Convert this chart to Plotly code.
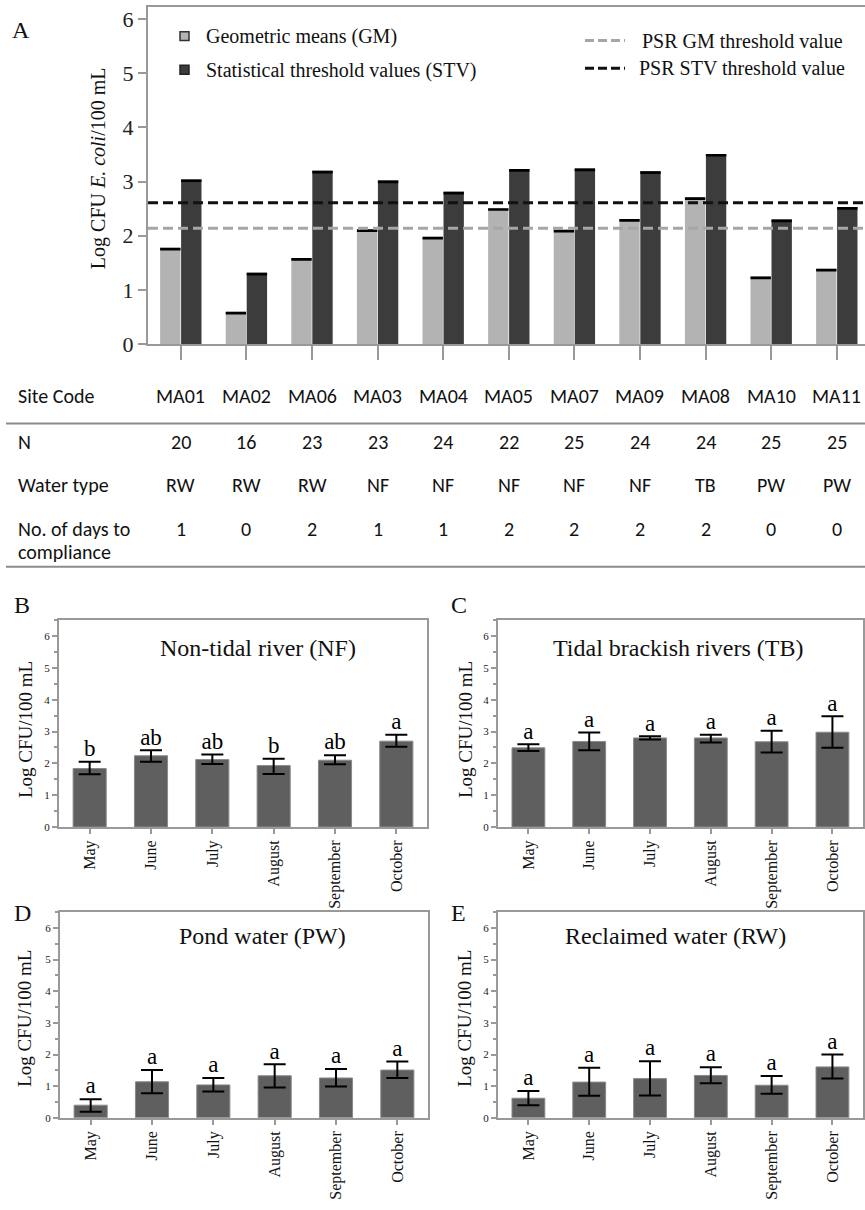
import plotly.graph_objects as go

# ---------------- data ----------------
sites = ["MA01", "MA02", "MA06", "MA03", "MA04", "MA05", "MA07", "MA09", "MA08", "MA10", "MA11"]
gm_values = [1.78, 0.60, 1.59, 2.12, 1.98, 2.51, 2.11, 2.31, 2.71, 1.25, 1.39]
stv_values = [3.04, 1.32, 3.20, 3.02, 2.81, 3.23, 3.24, 3.19, 3.51, 2.30, 2.53]
n_samples = [20, 16, 23, 23, 24, 22, 25, 24, 24, 25, 25]
water_type = ["RW", "RW", "RW", "NF", "NF", "NF", "NF", "NF", "TB", "PW", "PW"]
days_to_compliance = [1, 0, 2, 1, 1, 2, 2, 2, 2, 0, 0]
psr_gm_threshold = 2.14
psr_stv_threshold = 2.61

months = ["May", "June", "July", "August", "September", "October"]

nf_mean = [1.84, 2.24, 2.12, 1.93, 2.10, 2.70]
nf_upper = [2.05, 2.41, 2.28, 2.15, 2.26, 2.90]
nf_lower = [1.66, 2.05, 1.98, 1.67, 1.97, 2.52]
nf_letters = ["b", "ab", "ab", "b", "ab", "a"]

tb_mean = [2.49, 2.69, 2.80, 2.80, 2.68, 2.98]
tb_upper = [2.60, 2.97, 2.85, 2.90, 3.03, 3.48]
tb_lower = [2.39, 2.41, 2.75, 2.66, 2.34, 2.49]
tb_letters = ["a", "a", "a", "a", "a", "a"]

pw_mean = [0.40, 1.14, 1.04, 1.33, 1.26, 1.51]
pw_upper = [0.59, 1.51, 1.26, 1.69, 1.54, 1.78]
pw_lower = [0.19, 0.78, 0.83, 0.96, 0.99, 1.26]
pw_letters = ["a", "a", "a", "a", "a", "a"]

rw_mean = [0.62, 1.13, 1.24, 1.34, 1.03, 1.61]
rw_upper = [0.85, 1.58, 1.79, 1.60, 1.32, 2.00]
rw_lower = [0.40, 0.70, 0.71, 1.09, 0.76, 1.24]
rw_letters = ["a", "a", "a", "a", "a", "a"]

# ---------------- style ----------------
W, H = 865, 1210
SERIF = "Liberation Serif, Times New Roman, serif"
SANS = "Carlito, Lato, Open Sans, sans-serif"
AXC = "#999999"
GM_COLOR = "#b3b3b3"
STV_COLOR = "#3c3c3c"
BAR_COLOR = "#5f5f5f"
CAP = 0.05


def px(x):
    return x / W


def py(y):
    return 1 - y / H


fig = go.Figure()

# ---------------- panel A ----------------
fig.add_trace(go.Bar(x=sites, y=gm_values, offsetgroup="gm", marker=dict(color=GM_COLOR, line=dict(width=0)),
                     xaxis="x", yaxis="y", showlegend=False, hoverinfo="skip"))
fig.add_trace(go.Bar(x=sites, y=[CAP] * len(sites), base=[v - CAP for v in gm_values], offsetgroup="gm",
                     marker=dict(color="black", line=dict(width=0)), xaxis="x", yaxis="y", showlegend=False,
                     hoverinfo="skip"))
fig.add_trace(go.Bar(x=sites, y=stv_values, offsetgroup="stv", marker=dict(color=STV_COLOR, line=dict(width=0)),
                     xaxis="x", yaxis="y", showlegend=False, hoverinfo="skip"))
fig.add_trace(go.Bar(x=sites, y=[CAP] * len(sites), base=[v - CAP for v in stv_values], offsetgroup="stv",
                     marker=dict(color="black", line=dict(width=0)), xaxis="x", yaxis="y", showlegend=False,
                     hoverinfo="skip"))

# threshold lines
fig.add_shape(type="line", xref="x domain", yref="y", x0=0, x1=1, y0=psr_gm_threshold, y1=psr_gm_threshold,
              line=dict(color="#a6a6a6", width=3, dash="10px,5px"))
fig.add_shape(type="line", xref="x domain", yref="y", x0=0, x1=1, y0=psr_stv_threshold, y1=psr_stv_threshold,
              line=dict(color="#111111", width=3, dash="10px,5px"))

# ---------------- panels B-E ----------------
panels = [
    ("2", nf_mean, nf_upper, nf_lower, nf_letters),
    ("3", tb_mean, tb_upper, tb_lower, tb_letters),
    ("4", pw_mean, pw_upper, pw_lower, pw_letters),
    ("5", rw_mean, rw_upper, rw_lower, rw_letters),
]
for ax, mean, up, lo, letters in panels:
    fig.add_trace(go.Bar(
        x=months, y=mean, width=0.54, offset=-0.27,
        marker=dict(color=BAR_COLOR, line=dict(color="#8a8a8a", width=1)),
        error_y=dict(type="data", symmetric=False,
                     array=[u - m for u, m in zip(up, mean)],
                     arrayminus=[m - l for m, l in zip(mean, lo)],
                     color="black", thickness=2, width=11),
        xaxis="x" + ax, yaxis="y" + ax, showlegend=False, hoverinfo="skip"))
    fig.add_trace(go.Scatter(
        x=months, y=up, mode="text", text=letters, textposition="top center",
        textfont=dict(family=SERIF, size=23, color="black"),
        xaxis="x" + ax, yaxis="y" + ax, showlegend=False, hoverinfo="skip", cliponaxis=False))


def xax(domain, anchor, rng, **kw):
    d = dict(domain=domain, anchor=anchor, range=rng, showline=True, linecolor=AXC, linewidth=2,
             mirror=True, ticks="outside", tickcolor=AXC, tickwidth=1.5, showgrid=False, zeroline=False,
             fixedrange=True)
    d.update(kw)
    return d


def yax(domain, anchor, rng, **kw):
    d = dict(domain=domain, anchor=anchor, range=rng, showline=True, linecolor=AXC, linewidth=2,
             ticks="outside", tickcolor=AXC, tickwidth=1.5, showgrid=False, zeroline=False, dtick=1,
             fixedrange=True)
    d.update(kw)
    return d


small_y = dict(ticklen=5, tickfont=dict(family=SERIF, size=11, color="#222"), mirror=True,
               minor=dict(ticks="outside", ticklen=3, dtick=0.5, tickcolor=AXC, showgrid=False))
month_x = dict(ticklen=5, tickangle=-90, tickfont=dict(family=SERIF, size=16, color="#111"))

yB = [py(836), py(627)]
yD = [py(1130), py(922)]
xL = [px(59), px(427)]
xR = [px(498), 0.9975]

fig.update_layout(
    width=W, height=H, margin=dict(l=0, r=0, t=0, b=0),
    paper_bgcolor="white", plot_bgcolor="white",
    barmode="group", bargap=0.36, bargroupgap=0.03,
    showlegend=False,
    xaxis=xax([px(148), 1], "y", [-0.5, 10.43], ticklen=14, showticklabels=False),
    yaxis=yax([py(348), py(7)], "x", [0, 6.22], ticklen=8,
              tickfont=dict(family=SERIF, size=22, color="#222")),
    xaxis2=xax(xL, "y2", [-0.5, 5.5], **month_x),
    yaxis2=yax(yB, "x2", [0, 6.5], **small_y),
    xaxis3=xax(xR, "y3", [-0.5, 5.5], **month_x),
    yaxis3=yax(yB, "x3", [0, 6.5], **small_y),
    xaxis4=xax([px(60), px(428)], "y4", [-0.5, 5.5], **month_x),
    yaxis4=yax(yD, "x4", [0, 6.5], **small_y),
    xaxis5=xax(xR, "y5", [-0.5, 5.5], **month_x),
    yaxis5=yax(yD, "x5", [0, 6.5], **small_y),
)

ann = []


def text(x, y, s, size, family=SERIF, xanchor="center", angle=0, xref="paper", color="#111"):
    ann.append(dict(x=x, y=y, xref=xref, yref="paper", text=s, showarrow=False, xanchor=xanchor,
                    yanchor="middle", textangle=angle, font=dict(family=family, size=size, color=color)))


# panel letters
text(px(10), py(30), "A", 24, xanchor="left")
text(px(12), py(612), "B", 24, xanchor="left")
text(px(449), py(612), "C", 24, xanchor="left")
text(px(12), py(923), "D", 24, xanchor="left")
text(px(449), py(923), "E", 24, xanchor="left")

# axis titles
text(px(98), py(170), "Log CFU <i>E. coli</i>/100 mL", 20, angle=-90)
for xx, yy in [(25, 738), (465, 738), (25, 1030), (465, 1030)]:
    text(px(xx), py(yy), "Log CFU/100 mL", 19, angle=-90)

# panel titles
text(px(258), py(655), "Non-tidal river (NF)", 24)
text(px(678), py(655), "Tidal brackish rivers (TB)", 24)
text(px(262), py(946), "Pond water (PW)", 24)
text(px(675), py(946), "Reclaimed water (RW)", 24)

# legend (panel A)
fig.add_shape(type="rect", xref="paper", yref="paper", x0=px(180), x1=px(189), y0=py(41), y1=py(32),
              fillcolor=GM_COLOR, line=dict(color="#333", width=1.5))
fig.add_shape(type="rect", xref="paper", yref="paper", x0=px(180), x1=px(189), y0=py(75), y1=py(66),
              fillcolor=STV_COLOR, line=dict(color="#222", width=1.5))
text(px(204), py(37), "Geometric means (GM)", 20, xanchor="left")
text(px(204), py(71), "Statistical threshold values (STV)", 20, xanchor="left")
fig.add_shape(type="line", xref="paper", yref="paper", x0=px(585), x1=px(625), y0=py(41), y1=py(41),
              line=dict(color="#a6a6a6", width=3, dash="9px,4px"))
fig.add_shape(type="line", xref="paper", yref="paper", x0=px(585), x1=px(625), y0=py(69), y1=py(69),
              line=dict(color="#111111", width=3, dash="9px,4px"))
text(px(640), py(41), "PSR GM threshold value", 20, xanchor="left")
text(px(637), py(69), "PSR STV threshold value", 20, xanchor="left")

# table
ROW_SITE, ROW_N, ROW_WT, ROW_D1, ROW_D2 = 400, 447, 490, 535, 558
TABLE_FONT = 20
text(px(16), py(ROW_SITE), "Site Code", TABLE_FONT, family=SANS, xanchor="left")
text(px(16), py(ROW_N), "N", TABLE_FONT, family=SANS, xanchor="left")
text(px(16), py(ROW_WT), "Water type", TABLE_FONT, family=SANS, xanchor="left")
text(px(16), py(ROW_D1), "No. of days to", TABLE_FONT, family=SANS, xanchor="left")
text(px(16), py(ROW_D2), "compliance", TABLE_FONT, family=SANS, xanchor="left")
for s, n, wt, d in zip(sites, n_samples, water_type, days_to_compliance):
    text(s, py(ROW_SITE), s, TABLE_FONT, family=SANS, xref="x")
    text(s, py(ROW_N), str(n), TABLE_FONT, family=SANS, xref="x")
    text(s, py(ROW_WT), wt, TABLE_FONT, family=SANS, xref="x")
    text(s, py(ROW_D1), str(d), TABLE_FONT, family=SANS, xref="x")

fig.add_shape(type="line", xref="paper", yref="paper", x0=px(6), x1=1, y0=py(428), y1=py(428),
              line=dict(color="#8c8c8c", width=2))
fig.add_shape(type="line", xref="paper", yref="paper", x0=px(6), x1=1, y0=py(573), y1=py(573),
              line=dict(color="#8c8c8c", width=2))

fig.update_layout(annotations=ann)
fig.write_html("out.html")
